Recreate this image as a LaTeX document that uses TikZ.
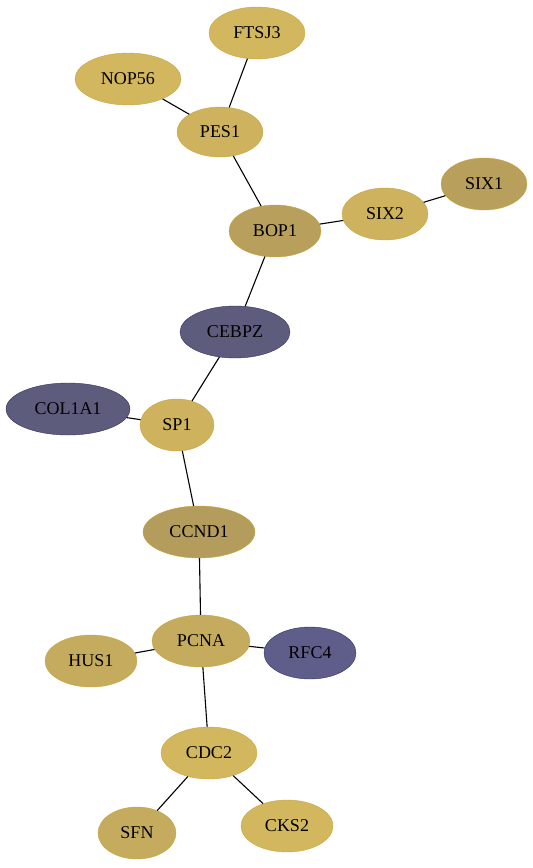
\documentclass[tikz,border=0pt]{standalone}
\usepackage{fontspec}
\setmainfont{Liberation Serif}
\usepackage{tikz}
\usetikzlibrary{shapes.geometric}
\definecolor{goldA}{RGB}{211,183,94}
\definecolor{goldB}{RGB}{206,178,94}
\definecolor{goldC}{RGB}{197,171,94}
\definecolor{goldD}{RGB}{184,159,92}
\definecolor{goldE}{RGB}{180,157,92}
\definecolor{goldLine}{RGB}{200,165,60}
\definecolor{blueA}{RGB}{94,92,125}
\definecolor{blueB}{RGB}{95,93,137}
\definecolor{blueLine}{RGB}{50,50,100}

\begin{document}
\begin{tikzpicture}[
  x=1pt, y=-1pt,
  gene/.style={ellipse, draw=goldLine, inner sep=0pt, minimum height=52pt,
    font=\fontsize{18}{20}\selectfont},
  blue/.style={gene, draw=blueLine},
  link/.style={black, line width=1.1pt}
]
  \useasboundingbox (0,0) rectangle (533,868);
  \node[gene, fill=goldA, minimum width=96pt] (FTSJ3) at (257,33) {FTSJ3};
  \node[gene, fill=goldA, minimum width=106pt] (NOP56) at (128,79) {NOP56};
  \node[gene, fill=goldB, minimum width=86pt, minimum height=50pt] (PES1) at (220,132) {PES1};
  \node[gene, fill=goldD, minimum width=92pt] (BOP1) at (275,231) {BOP1};
  \node[gene, fill=goldB, minimum width=86pt] (SIX2) at (385,214) {SIX2};
  \node[gene, fill=goldD, minimum width=86pt] (SIX1) at (484,184) {SIX1};
  \node[blue, fill=blueA, minimum width=110pt] (CEBPZ) at (235,332) {CEBPZ};
  \node[blue, fill=blueA, minimum width=124pt] (COL1A1) at (68,409) {COL1A1};
  \node[gene, fill=goldB, minimum width=74pt] (SP1) at (177,425) {SP1};
  \node[gene, fill=goldE, minimum width=112pt] (CCND1) at (199,532) {CCND1};
  \node[gene, fill=goldC, minimum width=98pt] (PCNA) at (201,641) {PCNA};
  \node[gene, fill=goldC, minimum width=92pt] (HUS1) at (91,661) {HUS1};
  \node[blue, fill=blueB, minimum width=92pt] (RFC4) at (310,653) {RFC4};
  \node[gene, fill=goldA, minimum width=96pt] (CDC2) at (209,753) {CDC2};
  \node[gene, fill=goldC, minimum width=78pt] (SFN) at (137,833) {SFN};
  \node[gene, fill=goldA, minimum width=92pt] (CKS2) at (287,826) {CKS2};
  % edges
  \draw[link] (FTSJ3) -- (PES1);
  \draw[link] (NOP56) -- (PES1);
  \draw[link] (PES1) -- (BOP1);
  \draw[link] (BOP1) -- (SIX2);
  \draw[link] (SIX2) -- (SIX1);
  \draw[link] (BOP1) -- (CEBPZ);
  \draw[link] (CEBPZ) -- (SP1);
  \draw[link] (COL1A1) -- (SP1);
  \draw[link] (SP1) -- (CCND1);
  \draw[link] (CCND1) -- (PCNA);
  \draw[link] (PCNA) -- (HUS1);
  \draw[link] (PCNA) -- (RFC4);
  \draw[link] (PCNA) -- (CDC2);
  \draw[link] (CDC2) -- (SFN);
  \draw[link] (CDC2) -- (CKS2);
\end{tikzpicture}
\end{document}
